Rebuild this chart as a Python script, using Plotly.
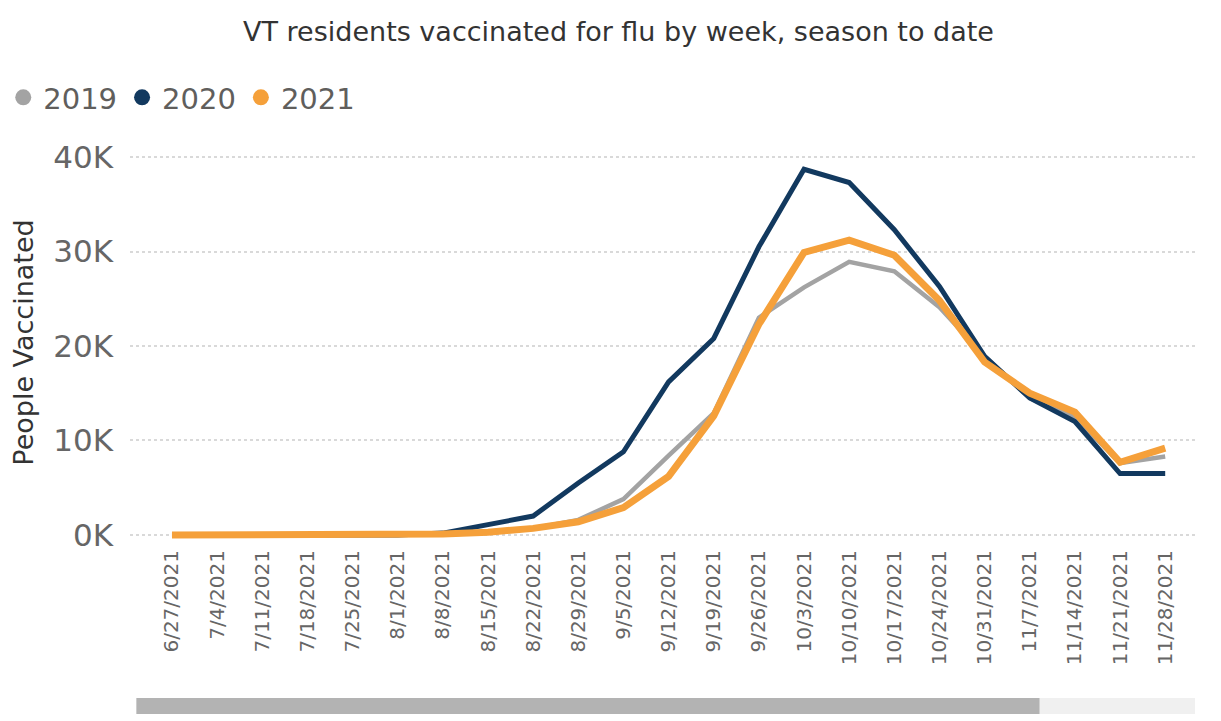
import plotly.graph_objects as go

weeks = ["6/27/2021", "7/4/2021", "7/11/2021", "7/18/2021", "7/25/2021", "8/1/2021",
         "8/8/2021", "8/15/2021", "8/22/2021", "8/29/2021", "9/5/2021", "9/12/2021",
         "9/19/2021", "9/26/2021", "10/3/2021", "10/10/2021", "10/17/2021", "10/24/2021",
         "10/31/2021", "11/7/2021", "11/14/2021", "11/21/2021", "11/28/2021"]

vax_2019 = [0, 0, 0, 0, 0, 0, 100, 300, 700, 1600, 3800, 8400, 12900, 23000,
            26200, 28900, 27900, 24100, 18900, 14500, 12500, 7600, 8300]
vax_2020 = [0, 0, 0, 0, 0, 0, 200, 1100, 2000, 5500, 8800, 16200, 20800, 30500,
            38700, 37300, 32300, 26300, 18900, 14500, 12000, 6500, 6500]
vax_2021 = [0, 0, 0, 0, 0, 0, 100, 300, 700, 1400, 2900, 6200, 12600, 22300,
            29900, 31200, 29600, 24800, 18300, 15000, 13000, 7700, 9200]

y_ticks = [0, 10000, 20000, 30000, 40000]
y_tick_text = ["0K", "10K", "20K", "30K", "40K"]

series = [("2019", vax_2019, "#a3a3a3", 4.5),
          ("2020", vax_2020, "#12395f", 5),
          ("2021", vax_2021, "#f5a03a", 7)]

fig = go.Figure()
for name, vals, color, w in series:
    fig.add_trace(go.Scatter(x=weeks, y=vals, mode="lines", name=name,
                             line=dict(color=color, width=w), showlegend=False))
# legend entries shown as dots, like the original
for name, vals, color, w in series:
    fig.add_trace(go.Scatter(x=[None], y=[None], mode="markers", name=name,
                             marker=dict(color=color, size=16)))

# page body adds 8px, so the margins are set 8px short
fig.update_layout(
    width=1221, height=721,
    margin=dict(l=122, r=34, t=132, b=184, autoexpand=False),
    paper_bgcolor="white", plot_bgcolor="white",
    font=dict(family="DejaVu Sans", color="#605e5c"),
    title=dict(text="VT residents vaccinated for flu by week, season to date",
               x=0.5, xanchor="center", y=0.967, yanchor="middle",
               font=dict(size=27, color="#333333")),
    legend=dict(orientation="h", x=-0.119, xanchor="left", y=1.105, yanchor="middle",
                font=dict(size=29, color="#605e5c"), itemwidth=30,
                tracegroupgap=0, bgcolor="rgba(0,0,0,0)"),
    xaxis=dict(type="category", range=[-0.93, 22.66], tickangle=-90, automargin=False,
               tickfont=dict(size=20, color="#666666"), showgrid=False,
               showline=False, zeroline=False, ticks=""),
    yaxis=dict(range=[-1060, 41800], tickvals=y_ticks, ticktext=y_tick_text,
               automargin=False,
               tickfont=dict(size=31, color="#666666"), showgrid=True,
               gridcolor="#d9d9d9", griddash="dot", gridwidth=1.5, zeroline=False,
               showline=False, ticks="", ticklabelstandoff=16,
               title=dict(text="People Vaccinated", font=dict(size=27, color="#333333"),
                          standoff=12)),
    shapes=[
        dict(type="rect", xref="paper", yref="paper", x0=0.006, x1=1.0, y0=-0.417, y1=-0.378,
             fillcolor="#f0f0f0", line=dict(width=0), layer="below"),
        dict(type="rect", xref="paper", yref="paper", x0=0.006, x1=0.854, y0=-0.417, y1=-0.378,
             fillcolor="#b3b3b3", line=dict(width=0), layer="below"),
    ],
)

fig.write_html("out.html")
